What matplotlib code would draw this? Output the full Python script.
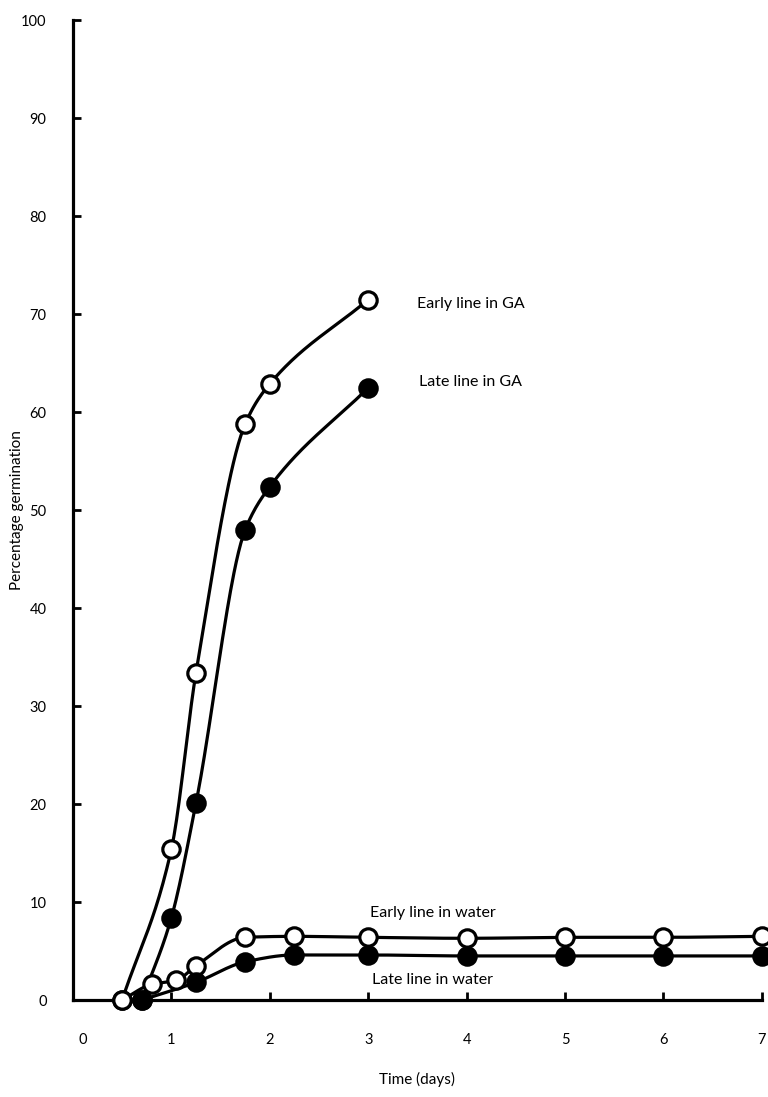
import numpy as np
import matplotlib
matplotlib.use("Agg")
import matplotlib.pyplot as plt
import matplotlib.transforms as mtransforms

# données
early_ga_x = [0.5, 1.0, 1.25, 1.75, 2.0, 3.0]
early_ga_y = [0, 15.4, 33.4, 58.8, 62.9, 71.5]

late_ga_x = [0.7, 1.0, 1.25, 1.75, 2.0, 3.0]
late_ga_y = [0, 8.4, 20.1, 48.0, 52.4, 62.5]

early_water_x = [0.5, 0.8, 1.05, 1.25, 1.75, 2.25, 3, 4, 5, 6, 7]
early_water_y = [0, 1.6, 2.0, 3.5, 6.4, 6.5, 6.4, 6.3, 6.4, 6.4, 6.5]

late_water_x = [0.7, 1.25, 1.75, 2.25, 3, 4, 5, 6, 7]
late_water_y = [0, 1.8, 3.9, 4.6, 4.6, 4.5, 4.5, 4.5, 4.5]

x_ticks = [0, 1, 2, 3, 4, 5, 6, 7]
y_ticks = [0, 10, 20, 30, 40, 50, 60, 70, 80, 90, 100]


def lisse(x, y, n=200):
    # courbe monotone (Fritsch-Carlson) pour le tracé à la main
    x = np.asarray(x, float)
    y = np.asarray(y, float)
    h = np.diff(x)
    d = np.diff(y) / h
    m = np.zeros_like(y)
    m[0] = d[0]
    m[-1] = d[-1]
    for k in range(1, len(x) - 1):
        if d[k - 1] * d[k] <= 0:
            m[k] = 0
        else:
            w1 = 2 * h[k] + h[k - 1]
            w2 = h[k] + 2 * h[k - 1]
            m[k] = (w1 + w2) / (w1 / d[k - 1] + w2 / d[k])
    xs = np.linspace(x[0], x[-1], n)
    idx = np.clip(np.searchsorted(x, xs) - 1, 0, len(x) - 2)
    t = (xs - x[idx]) / h[idx]
    h00 = 2 * t**3 - 3 * t**2 + 1
    h10 = t**3 - 2 * t**2 + t
    h01 = -2 * t**3 + 3 * t**2
    h11 = t**3 - t**2
    ys = h00 * y[idx] + h10 * h[idx] * m[idx] + h01 * y[idx + 1] + h11 * h[idx] * m[idx + 1]
    return xs, ys


plt.rcParams['font.family'] = ['Lato', 'DejaVu Sans']

fig = plt.figure(figsize=(7.68, 10.97), dpi=100)
ax = fig.add_axes([0.095, 0.0884, 0.897, 0.893])

series = [
    (early_ga_x, early_ga_y, "white"),
    (late_ga_x, late_ga_y, "black"),
    (early_water_x, early_water_y, "white"),
    (late_water_x, late_water_y, "black"),
]
for x, y, fc in series:
    xs, ys = lisse(x, y)
    ax.plot(xs, ys, color="black", lw=2.3, clip_on=False, zorder=2)
for x, y, fc in series:
    ax.plot(x, y, "o", ms=12.5, mfc=fc, mec="black", mew=2.3,
            clip_on=False, zorder=3)

ax.text(3.5, 71.0, "Early line in GA", fontsize=11.5, va="center")
ax.text(3.52, 63.1, "Late line in GA", fontsize=11.5, va="center")
ax.text(3.02, 8.9, "Early line in water", fontsize=11.5, va="center")
ax.text(3.04, 2.0, "Late line in water", fontsize=11.5, va="center")

ax.set_xlim(0, 7)
ax.set_ylim(0, 100)
ax.set_xticks(x_ticks)
ax.set_yticks(y_ticks)
ax.tick_params(direction="in", length=6, width=2, labelsize=10.5)
ax.xaxis.set_tick_params(pad=24)
ax.yaxis.set_tick_params(pad=19)
for s in ["top", "right"]:
    ax.spines[s].set_visible(False)
for s in ["left", "bottom"]:
    ax.spines[s].set_linewidth(2.3)

# le "0" de l'axe des x est décalé vers la droite dans l'original
lab0 = ax.get_xticklabels()[0]
lab0.set_transform(lab0.get_transform() +
                   mtransforms.ScaledTranslation(0.1, 0, fig.dpi_scale_trans))

ax.set_xlabel("Time (days)", fontsize=11, labelpad=18)
ax.set_ylabel("Percentage germination", fontsize=11, labelpad=-2)

fig.savefig("out.png", dpi=100)
